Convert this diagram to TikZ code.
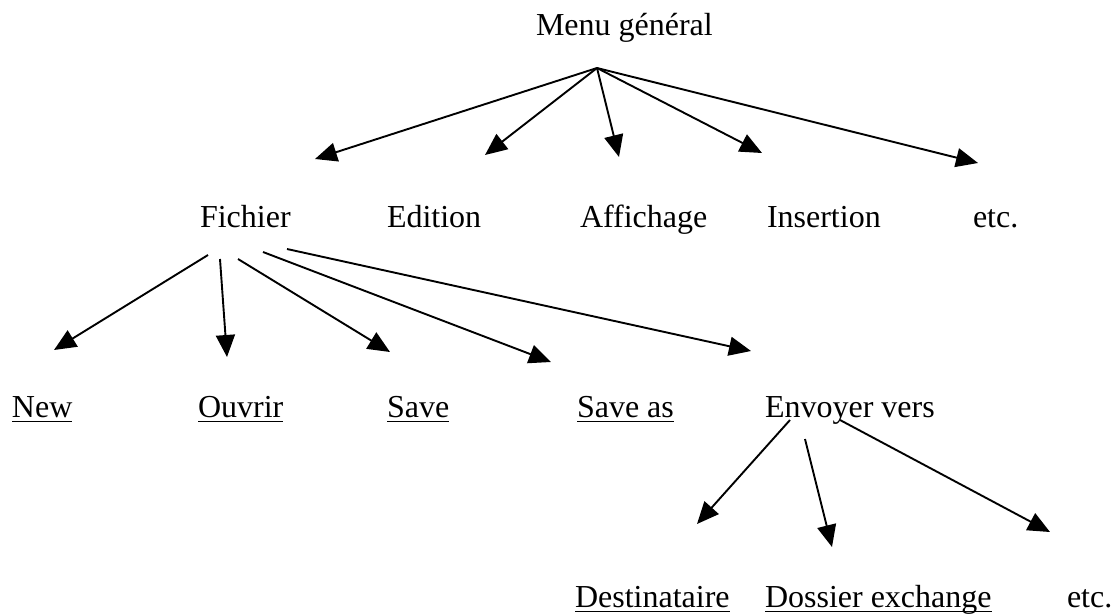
\documentclass[tikz,border=0pt]{standalone}
\usepackage{fontspec}
\setmainfont{Liberation Serif}
\usetikzlibrary{arrows.meta}
\begin{document}
\begin{tikzpicture}[x=1pt,y=-1pt,
  lbl/.style={inner sep=0pt,outer sep=0pt,anchor=base west,font=\fontsize{32}{38}\selectfont},
  conn/.style={line width=1.9pt,-{Triangle[length=22pt,width=19pt]}},
  ul/.style={line width=1.6pt}]
\useasboundingbox (0,0) rectangle (1120,614);
% text nodes
\node[lbl] (menu) at (536,35) {Menu général};
\node[lbl] (fichier) at (200,227) {Fichier};
\node[lbl] (edition) at (387,227) {Edition};
\node[lbl] (affichage) at (580,227) {Affichage};
\node[lbl] (insertion) at (767,227) {Insertion};
\node[lbl] (etcA) at (973,227) {etc.};
\node[lbl] (new) at (12,417) {New};
\node[lbl] (ouvrir) at (198,417) {Ouvrir};
\node[lbl] (save) at (387,417) {Save};
\node[lbl] (saveas) at (577,417) {Save as};
\node[lbl] (envoyer) at (765,417) {Envoyer vers};
\node[lbl] (dest) at (575,607) {Destinataire};
\node[lbl] (dossier) at (765,607) {Dossier exchange};
\node[lbl] (etcB) at (1067,607) {etc.};
% underlines
\foreach \n in {new,ouvrir,save,saveas,dest,dossier}
  \draw[ul] ([yshift=-4.5pt]\n.base west) -- ([yshift=-4.5pt]\n.base east);
% connector end points
\coordinate (hub) at (597,68);
\coordinate (tFichier) at (315,159);
\coordinate (tEdition) at (485,155);
\coordinate (tAffichage) at (619,157);
\coordinate (tInsertion) at (762,153);
\coordinate (tEtcA) at (978,163);
\coordinate (sNew) at (208,255);
\coordinate (sOuvrir) at (220,259);
\coordinate (sSave) at (238,259);
\coordinate (sSaveas) at (263,252);
\coordinate (sEnv) at (287,249);
\coordinate (tNew) at (54,350);
\coordinate (tOuvrir) at (227,357);
\coordinate (tSave) at (390,352);
\coordinate (tSaveas) at (551,362);
\coordinate (tEnv) at (751,351);
\coordinate (sDest) at (790,420);
\coordinate (sDossier) at (805,439);
\coordinate (sEtcB) at (840,420);
\coordinate (tDest) at (697,524);
\coordinate (tDossier) at (832,547);
\coordinate (tEtcB) at (1050,532);
% connectors
\draw[conn] (hub) -- (tFichier);
\draw[conn] (hub) -- (tEdition);
\draw[conn] (hub) -- (tAffichage);
\draw[conn] (hub) -- (tInsertion);
\draw[conn] (hub) -- (tEtcA);
\draw[conn] (sNew) -- (tNew);
\draw[conn] (sOuvrir) -- (tOuvrir);
\draw[conn] (sSave) -- (tSave);
\draw[conn] (sSaveas) -- (tSaveas);
\draw[conn] (sEnv) -- (tEnv);
\draw[conn] (sDest) -- (tDest);
\draw[conn] (sDossier) -- (tDossier);
\draw[conn] (sEtcB) -- (tEtcB);
\end{tikzpicture}
\end{document}
